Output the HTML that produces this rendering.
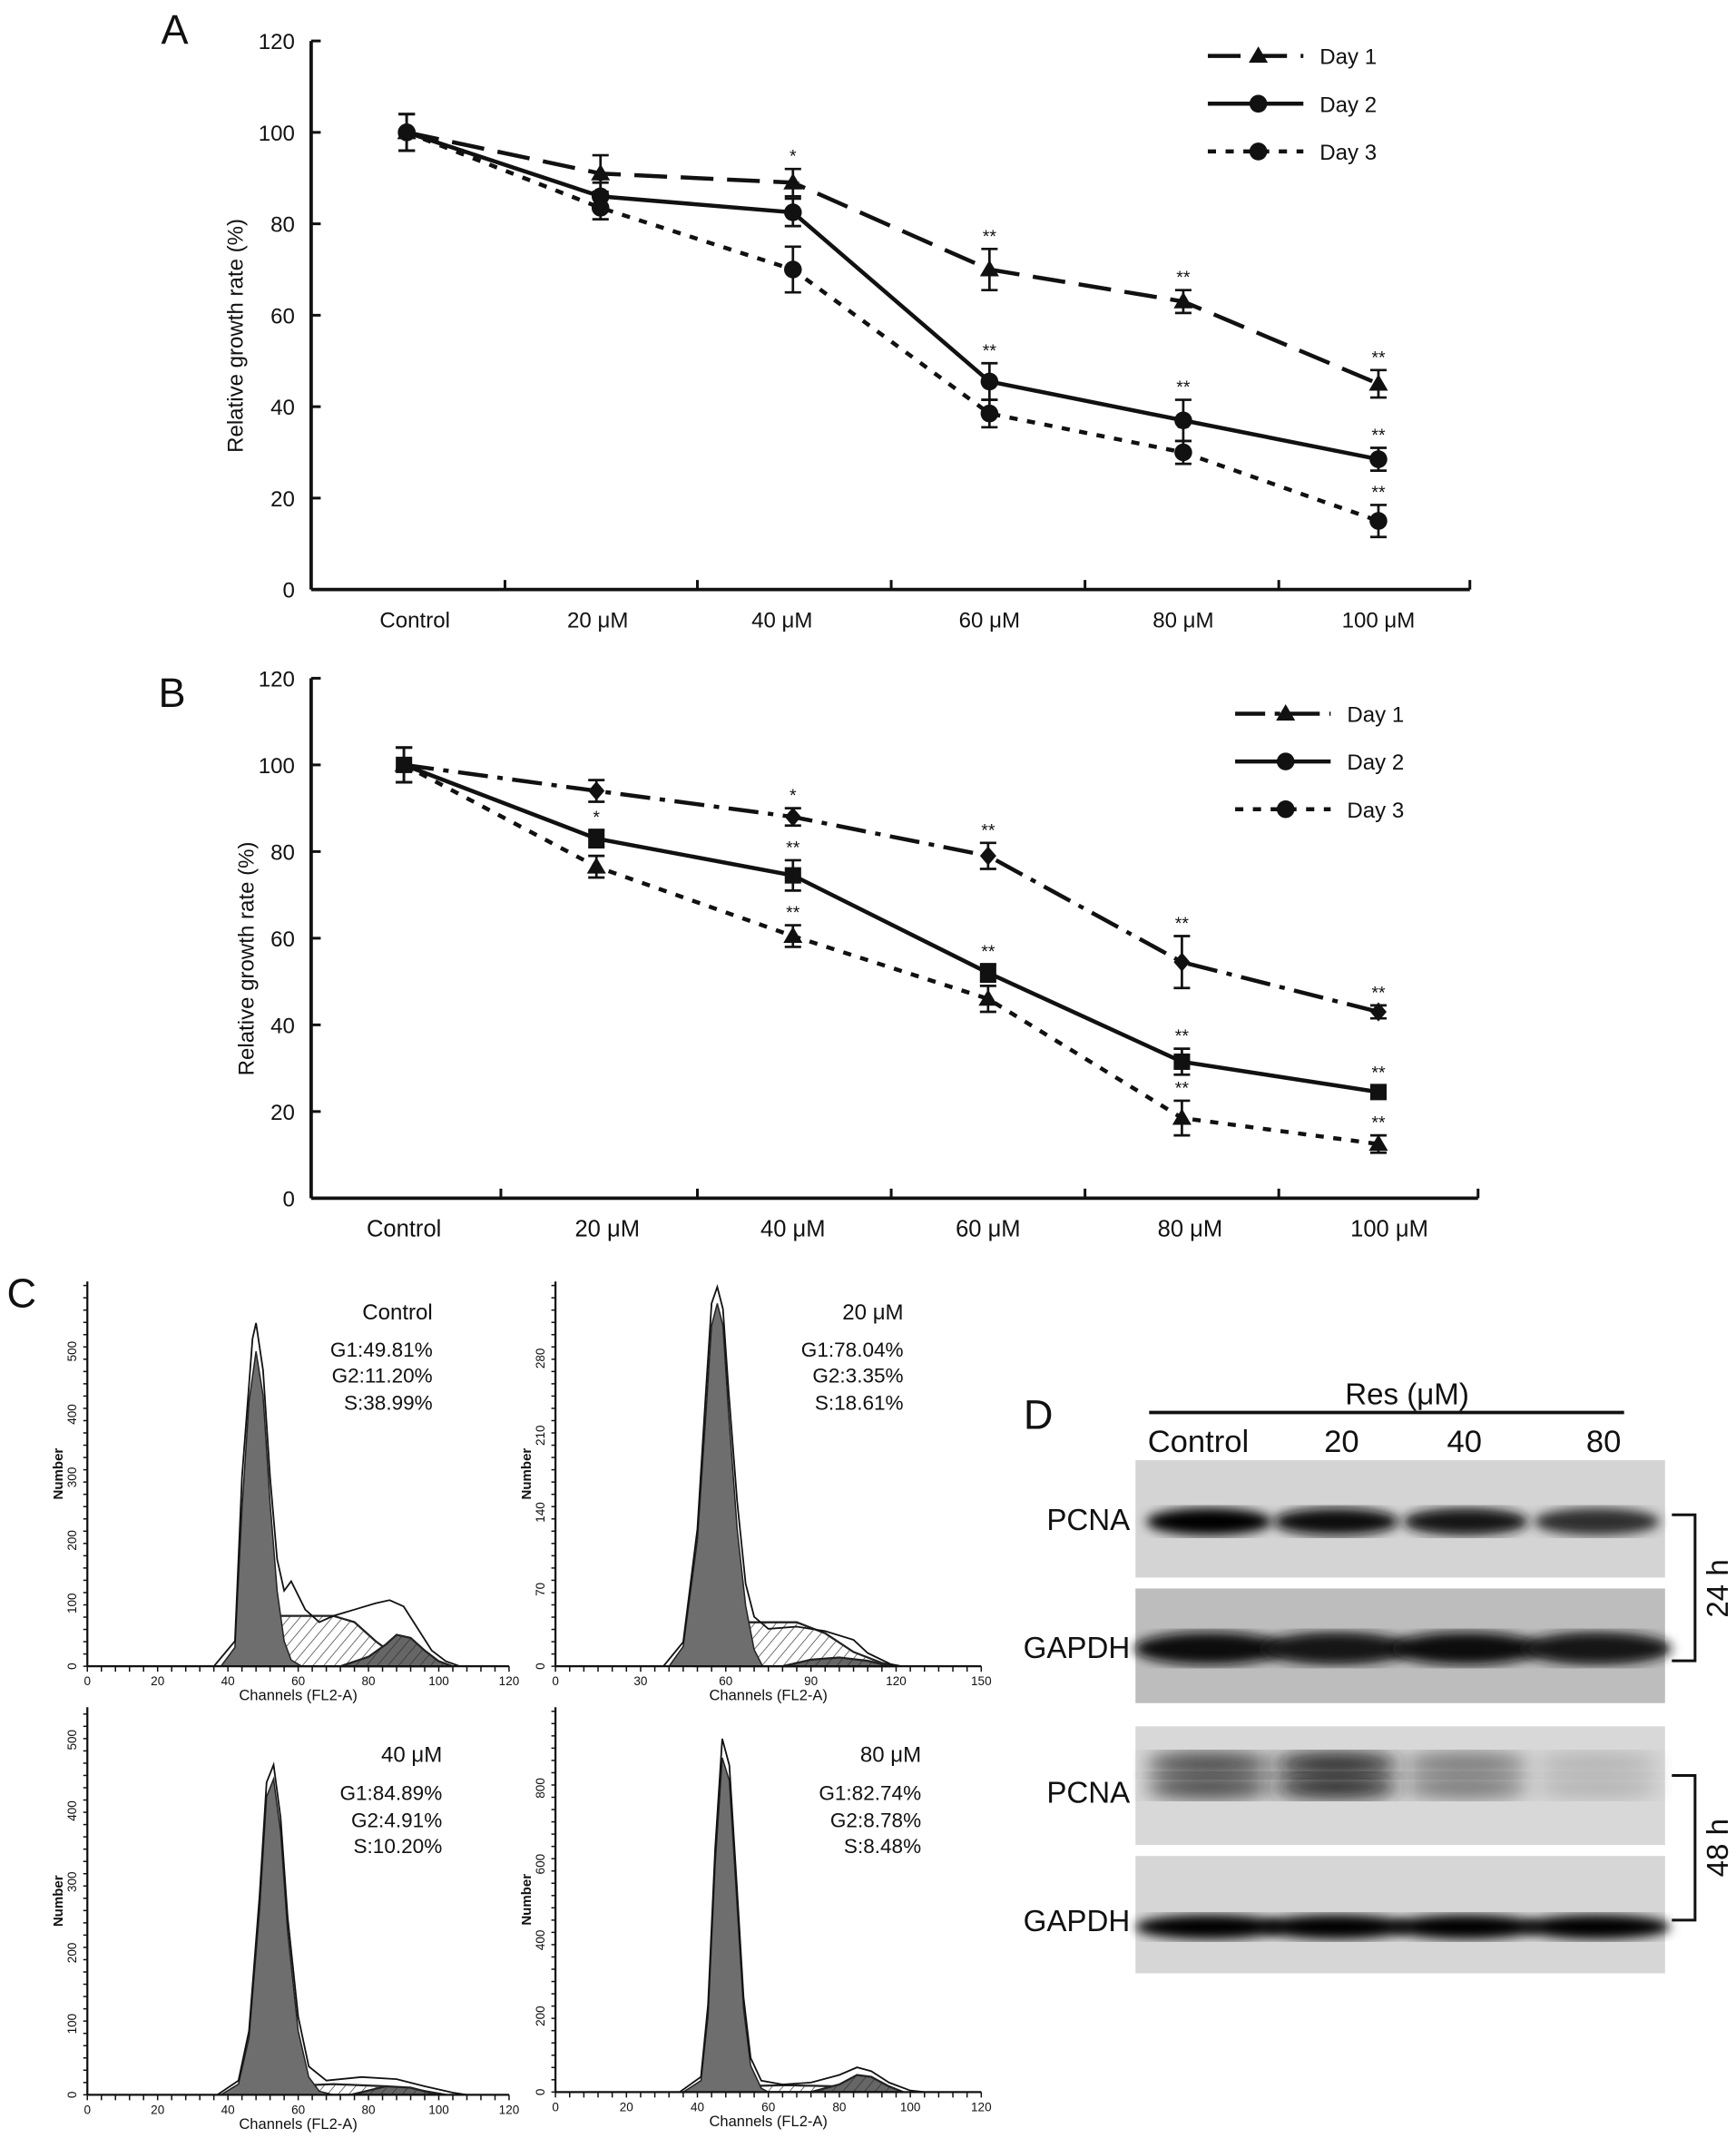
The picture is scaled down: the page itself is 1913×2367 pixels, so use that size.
<!DOCTYPE html>
<html><head><meta charset="utf-8"><style>
html,body{margin:0;padding:0;background:#fff}
svg{display:block}
text{font-family:"Liberation Sans",sans-serif;fill:#111}
</style></head><body>
<svg id="fig" width="1913" height="2367" viewBox="0 0 1272 1574" preserveAspectRatio="none" xmlns="http://www.w3.org/2000/svg">
<defs>
<pattern id="hatch" patternUnits="userSpaceOnUse" width="6" height="6" patternTransform="rotate(40)"><rect width="6" height="6" fill="#fff"/><line x1="0" y1="0" x2="0" y2="6" stroke="#444" stroke-width="1"/></pattern>
<pattern id="hatchDark" patternUnits="userSpaceOnUse" width="6" height="6" patternTransform="rotate(40)"><rect width="6" height="6" fill="#666"/><line x1="0" y1="0" x2="0" y2="6" stroke="#333" stroke-width="1"/></pattern>
<filter id="blur3"><feGaussianBlur stdDeviation="4"/></filter>
<filter id="blur8"><feGaussianBlur stdDeviation="7"/></filter>
</defs>
<g id="panelA"></g>
<g id="panelB"></g>
<g id="panelC"></g>
<g id="panelD"></g>
</svg>
<script>
// ---- Panel A data ----
const catLabels = ["Control","20 μM","40 μM","60 μM","80 μM","100 μM"];
const yTicks = [0,20,40,60,80,100,120];
const aDay1 = [100,91,89,70,63,45];
const aDay1Err = [4,4,3,4.5,2.5,3];
const aDay1Star = ["","","*","**","**","**"];
const aDay2 = [100,86,82.5,45.5,37,28.5];
const aDay2Err = [4,3,3,4,4.5,2.5];
const aDay2Star = ["","","**","**","**","**"];
const aDay3 = [100,83.5,70,38.5,30,15];
const aDay3Err = [4,2.5,5,3,2.5,3.5];
const aDay3Star = ["","*","","**","**","**"];
// ---- Panel B data ----
const bDay1 = [100,94,88,79,54.5,43];
const bDay1Err = [4,2.5,2,3,6,1.5];
const bDay1Star = ["","","*","**","**","**"];
const bDay2 = [100,83,74.5,52,31.5,24.5];
const bDay2Err = [4,2,3.5,2,3,1.5];
const bDay2Star = ["","*","**","**","**","**"];
const bDay3 = [100,76.5,60.5,46,18.5,12.5];
const bDay3Err = [4,2.5,2.5,3,4,2];
const bDay3Star = ["","*","**","**","**","**"];
// ---- Panel C histogram data: [channel, count] ----
const cTitles = ["Control","20 μM","40 μM","80 μM"];
const cG1 = ["G1:49.81%","G1:78.04%","G1:84.89%","G1:82.74%"];
const cG2 = ["G2:11.20%","G2:3.35%","G2:4.91%","G2:8.78%"];
const cS = ["S:38.99%","S:18.61%","S:10.20%","S:8.48%"];
const cXMax = [120,150,120,120];
const cXTicks = [[0,20,40,60,80,100,120],[0,30,60,90,120,150],[0,20,40,60,80,100,120],[0,20,40,60,80,100,120]];
const cYTicks = [[0,100,200,300,400,500],[0,70,140,210,280],[0,100,200,300,400,500],[0,200,400,600,800]];
const cYMax = [611,350,546,1013];
const h1G1 = [[38,0],[42,30],[44,250],[46,420],[48,500],[50,430],[52,260],[54,120],[56,40],[58,10],[61,0]];
const h1S  = [[44,0],[50,40],[55,80],[70,80],[76,70],[82,40],[88,15],[96,3],[100,0]];
const h1G2 = [[72,0],[80,15],[85,35],[88,50],[92,45],[96,25],[100,8],[104,0]];
const h1Raw= [[36,0],[42,40],[44,300],[47,520],[48,545],[50,470],[52,300],[54,170],[56,120],[58,135],[62,90],[66,70],[70,80],[76,90],[82,100],[86,105],[90,95],[94,60],[98,25],[102,8],[106,0]];
const h2G1 = [[40,0],[45,18],[50,115],[53,230],[55,310],[57,330],[59,310],[61,230],[64,125],[67,55],[70,15],[73,0]];
const h2S  = [[50,0],[60,22],[68,40],[85,40],[95,30],[105,13],[115,3],[120,0]];
const h2G2 = [[80,0],[90,6],[100,8],[110,5],[118,0]];
const h2Raw= [[38,0],[45,22],[50,125],[53,250],[55,330],[57,345],[59,325],[61,250],[64,150],[67,75],[70,45],[75,34],[85,36],[95,32],[105,24],[110,12],[118,2],[122,0]];
const h3G1 = [[38,0],[43,15],[46,80],[49,260],[51,420],[53,445],[55,370],[57,230],[60,90],[63,25],[66,5],[70,0]];
const h3S  = [[45,0],[55,12],[70,15],[85,12],[95,6],[102,0]];
const h3G2 = [[75,0],[85,12],[92,10],[100,0]];
const h3Raw= [[37,0],[43,20],[46,90],[49,280],[51,440],[53,465],[55,390],[57,250],[60,110],[63,40],[68,20],[78,25],[88,22],[96,12],[104,3],[108,0]];
const h4G1 = [[36,0],[41,30],[43,200],[45,600],[47,880],[49,820],[51,520],[53,220],[55,70],[58,10],[60,0]];
const h4S  = [[42,0],[50,15],[65,18],[80,15],[90,8],[96,0]];
const h4G2 = [[72,0],[80,20],[85,45],[89,40],[94,15],[98,0]];
const h4Raw= [[35,0],[41,40],[43,230],[45,640],[47,930],[49,860],[51,560],[53,250],[55,90],[58,30],[64,20],[72,25],[80,45],[85,65],[89,55],[94,25],[100,4],[104,0]];
// ---- Panel D data ----
const dLanes = ["Control","20","40","80"];
const d24PCNA = [1.05,0.98,0.92,0.8];
const d24GAPDH = [0.95,0.92,0.97,0.93];
const d48PCNA = [0.7,0.85,0.45,0.15];
const d48GAPDH = [1.0,1.0,1.02,1.0];

const NS="http://www.w3.org/2000/svg";
function mk(tag, attrs, parent){const e=document.createElementNS(NS,tag);for(const k in attrs)e.setAttribute(k,attrs[k]);parent.appendChild(e);return e;}
function txt(s, attrs, parent){const e=mk("text",attrs,parent);e.textContent=s;return e;}

function marker(g,type,x,y){
  let m;
  if(type==="tri") m=mk("polygon",{points:`${x},${y-7} ${x-7},${y+5} ${x+7},${y+5}`,fill:"#111"},g);
  else if(type==="circ") m=mk("circle",{cx:x,cy:y,r:6.5,fill:"#111"},g);
  else if(type==="sq") m=mk("rect",{x:x-6,y:y-6,width:12,height:12,fill:"#111"},g);
  else m=mk("polygon",{points:`${x},${y-7} ${x+6},${y} ${x},${y+7} ${x-6},${y}`,fill:"#111"},g);
  return m;
}

function lineChart(root,cfg){
  const X0=228,X1=cfg.xEnd,Y0=cfg.y0,Ytop=cfg.yTop;
  const ys=v=>Y0-(v/120)*(Y0-Ytop);
  const xs=i=>cfg.cx[i];
  const ax=mk("g",{},root);
  
  
  mk("line",{x1:X0,y1:Ytop,x2:X0,y2:Y0,stroke:"#111","stroke-width":2.5},ax);
  mk("line",{x1:X0,y1:Y0,x2:X1,y2:Y0,stroke:"#111","stroke-width":2.5},ax);
  yTicks.forEach(t=>{const y=ys(t);mk("line",{x1:X0,y1:y,x2:X0+7,y2:y,stroke:"#111","stroke-width":2},ax);
    const l=txt(String(t),{x:X0-12,y:y+6,"text-anchor":"end","font-size":16},ax);
    
    });
  cfg.tickX.forEach(tx=>mk("line",{x1:tx,y1:Y0,x2:tx,y2:Y0-7,stroke:"#111","stroke-width":2},ax));
  catLabels.forEach((c,i)=>{const l=txt(c,{x:xs(i)+cfg.labDx[i],y:cfg.labY,"text-anchor":"middle","font-size":cfg.labFs},ax);
    
    });
  const yt=txt("Relative growth rate (%)",{transform:`translate(${cfg.ytX},${(Ytop+Y0)/2+15}) rotate(-90)`,"text-anchor":"middle","font-size":16},ax);
  
  
  const pl=txt(cfg.letter,{x:cfg.letterX,y:cfg.letterY,"font-size":30},root);
  
  
  cfg.series.forEach((s,si)=>{
    const g=mk("g",{},root);
    
    
    const pts=s.vals.map((v,i)=>`${xs(i)},${ys(v)}`).join(" ");
    mk("polyline",{points:pts,fill:"none",stroke:"#111","stroke-width":3,"stroke-dasharray":s.dash},g);
    s.vals.forEach((v,i)=>{
      const x=xs(i),e=s.err[i];
      mk("line",{x1:x,y1:ys(v+e),x2:x,y2:ys(v-e),stroke:"#111","stroke-width":1.8},g);
      mk("line",{x1:x-6,y1:ys(v+e),x2:x+6,y2:ys(v+e),stroke:"#111","stroke-width":1.8},g);
      mk("line",{x1:x-6,y1:ys(v-e),x2:x+6,y2:ys(v-e),stroke:"#111","stroke-width":1.8},g);
      const m=marker(g,s.mk,x,ys(v));
      
      
      if(s.star[i]){const st=txt(s.star[i],{x:x,y:ys(v+e)-5,"text-anchor":"middle","font-size":13,fill:"#333"},g);
        
        }
    });
    const lg=mk("g",{},root);
    
    
    const ly=cfg.legY+si*35;
    mk("line",{x1:cfg.legX,y1:ly,x2:cfg.legX+70,y2:ly,stroke:"#111","stroke-width":3,"stroke-dasharray":s.dash},lg);
    marker(lg,cfg.legMk[si],cfg.legX+37,ly);
    txt(s.name,{x:cfg.legX+82,y:ly+6,"font-size":16},lg);
  });
}

lineChart(document.getElementById("panelA"),{
  xEnd:1077,y0:432,yTop:30,cx:[298,440,581,725,867,1010],tickX:[370,511,653,795,937,1077],
  labY:460,labFs:16,labDx:[6,-2,-8,0,0,0],ytX:178,letter:"A",letterX:118,letterY:32,
  legX:885,legY:41,legMk:["tri","circ","circ"],
  series:[
    {name:"Day 1",vals:aDay1,err:aDay1Err,star:aDay1Star,mk:"tri",dash:"24,10"},
    {name:"Day 2",vals:aDay2,err:aDay2Err,star:aDay2Star,mk:"circ",dash:"none"},
    {name:"Day 3",vals:aDay3,err:aDay3Err,star:aDay3Star,mk:"circ",dash:"6,7"}]
});
lineChart(document.getElementById("panelB"),{
  xEnd:1083,y0:878,yTop:497,cx:[296,437,581,724,866,1010],tickX:[367,511,653,795,937,1083],
  labY:906,labFs:17,labDx:[0,8,0,0,6,8],ytX:186,letter:"B",letterX:116,letterY:518,
  legX:905,legY:523,legMk:["tri","circ","circ"],
  series:[
    {name:"Day 1",vals:bDay1,err:bDay1Err,star:bDay1Star,mk:"dia",dash:"22,7,4,7"},
    {name:"Day 2",vals:bDay2,err:bDay2Err,star:bDay2Star,mk:"sq",dash:"none"},
    {name:"Day 3",vals:bDay3,err:bDay3Err,star:bDay3Star,mk:"tri",dash:"6,7"}]
});

// ---- Panel C ----
(function(){
  const root=document.getElementById("panelC");
  const L=txt("C",{x:5,y:958,"font-size":30},root);
  
  
  const boxes=[
    {x:64,y0:1221,yT:939,w:309,tx:317,t0:28,t1:55,t2:74,t3:94},
    {x:407,y0:1221,yT:939,w:312,tx:662,t0:28,t1:55,t2:74,t3:94},
    {x:64,y0:1535,yT:1251,w:309,tx:324,t0:40,t1:68,t2:88,t3:107},
    {x:407,y0:1533,yT:1251,w:312,tx:675,t0:40,t1:68,t2:88,t3:107}];
  const G1s=[h1G1,h2G1,h3G1,h4G1],Ss=[h1S,h2S,h3S,h4S],G2s=[h1G2,h2G2,h3G2,h4G2],Raws=[h1Raw,h2Raw,h3Raw,h4Raw];
  boxes.forEach((b,k)=>{
    const g=mk("g",{},root);
    
    
    const xs=c=>b.x+c/cXMax[k]*b.w, ys=n=>b.y0-n/cYMax[k]*(b.y0-b.yT);
    const poly=arr=>arr.map(p=>`${xs(p[0])},${ys(p[1])}`).join(" ");
    mk("polygon",{points:poly(Ss[k]),fill:"url(#hatch)",stroke:"#222","stroke-width":1.5},g);
    mk("polygon",{points:poly(G2s[k]),fill:"url(#hatchDark)",stroke:"#222","stroke-width":1.5},g);
    mk("polygon",{points:poly(G1s[k]),fill:"#6e6e6e",stroke:"#222","stroke-width":1},g);
    mk("polyline",{points:poly(Raws[k]),fill:"none",stroke:"#111","stroke-width":1.2},g);
    mk("line",{x1:b.x,y1:b.yT,x2:b.x,y2:b.y0,stroke:"#111","stroke-width":1.5},g);
    mk("line",{x1:b.x,y1:b.y0,x2:b.x+b.w,y2:b.y0,stroke:"#111","stroke-width":1.5},g);
    for(let t=0;t<=cXMax[k]+0.01;t+=cXMax[k]/30){mk("line",{x1:xs(t),y1:b.y0,x2:xs(t),y2:b.y0+4,stroke:"#111","stroke-width":1},g);}
    for(let y=b.y0;y>b.yT;y-=9){mk("line",{x1:b.x-3,y1:y,x2:b.x,y2:y,stroke:"#111","stroke-width":1},g);}
    cXTicks[k].forEach(t=>{const l=txt(String(t),{x:xs(t),y:b.y0+14,"text-anchor":"middle","font-size":9},g);
      
      });
    cYTicks[k].forEach(t=>{const l=txt(String(t),{transform:`translate(${b.x-8},${ys(t)}) rotate(-90)`,"text-anchor":"middle","font-size":9},g);
      
      });
    txt("Channels (FL2-A)",{x:b.x+b.w/2,y:b.y0+25,"text-anchor":"middle","font-size":11},g);
    txt("Number",{transform:`translate(${b.x-18},${(b.y0+b.yT)/2}) rotate(-90)`,"text-anchor":"middle","font-size":10,"font-weight":"bold"},g);
    txt(cTitles[k],{x:b.tx,y:b.yT+b.t0,"text-anchor":"end","font-size":16,"font-family":"Liberation Serif, serif"},g);
    txt(cG1[k],{x:b.tx,y:b.yT+b.t1,"text-anchor":"end","font-size":15},g);
    txt(cG2[k],{x:b.tx,y:b.yT+b.t2,"text-anchor":"end","font-size":15},g);
    txt(cS[k],{x:b.tx,y:b.yT+b.t3,"text-anchor":"end","font-size":15},g);
  });
})();

// ---- Panel D ----
(function(){
  const root=document.getElementById("panelD");
  const L=txt("D",{x:750,y:1047,"font-size":30},root);
  
  
  txt("Res (μM)",{x:1031,y:1029,"text-anchor":"middle","font-size":22},root);
  mk("line",{x1:842,y1:1035,x2:1190,y2:1035,stroke:"#111","stroke-width":2.5},root);
  const laneX=[886,979,1074,1170];
  const labX=[878,983,1073,1175];
  dLanes.forEach((l,i)=>{const t=txt(l,{x:labX[i],y:1064,"text-anchor":"middle","font-size":23},root);
    
    });
  const blots=[
    {y:1070,h:86,bg:"#d4d4d4",bands:[1115],vals:d24PCNA,lab:"PCNA",labY:1121,bw:46,bh:10,blur:"blur3"},
    {y:1164,h:84,bg:"#bdbdbd",bands:[1208],vals:d24GAPDH,lab:"GAPDH",labY:1215,bw:55,bh:12,blur:"blur3"},
    {y:1265,h:87,bg:"#d8d8d8",bands:[1293,1309],vals:d48PCNA,lab:"PCNA",labY:1321,bw:46,bh:9,blur:"blur8"},
    {y:1360,h:86,bg:"#d6d6d6",bands:[1412],vals:d48GAPDH,lab:"GAPDH",labY:1415,bw:54,bh:9,blur:"blur3"}];
  blots.forEach((b,k)=>{
    const g=mk("g",{},root);
    
    
    mk("rect",{x:832,y:b.y,width:388,height:b.h,fill:b.bg},g);
    b.vals.forEach((v,i)=>{
      const c=Math.max(0,Math.round(210-205*v));
      b.bands.forEach(by=>{
        mk("ellipse",{cx:laneX[i],cy:by,rx:b.bw,ry:b.bh,fill:`rgb(${c},${c},${c})`,filter:`url(#${b.blur})`},g);
      });
    });
    txt(b.lab,{x:828,y:b.labY,"text-anchor":"end","font-size":22},g);
  });
  [[1110,1217,"24 h",1164],[1301,1407,"48 h",1354]].forEach(r=>{
    const g=mk("g",{},root);
    
    
    mk("polyline",{points:`1225,${r[0]} 1242,${r[0]} 1242,${r[1]} 1225,${r[1]}`,fill:"none",stroke:"#111","stroke-width":2},g);
    txt(r[2],{transform:`translate(1266,${r[3]}) rotate(-90)`,"text-anchor":"middle","font-size":22},g);
  });
})();
</script>
</body></html>
